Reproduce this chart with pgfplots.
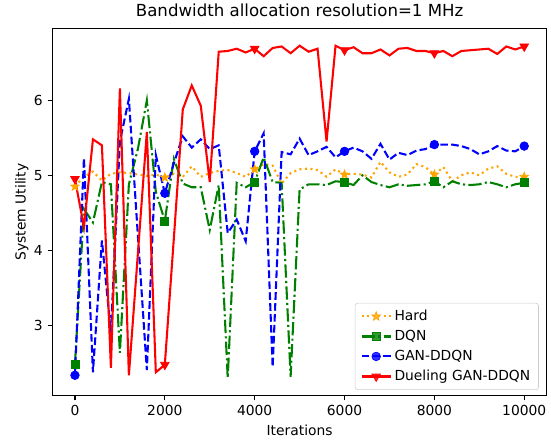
\documentclass[border=0pt]{standalone}
\usepackage{fontspec}
\setmainfont{DejaVu Sans}
\usepackage{pgfplots}
\pgfplotsset{compat=1.18}
\definecolor{cHard}{HTML}{FFA500}
\definecolor{cDQN}{HTML}{008000}
\definecolor{cGAN}{HTML}{0000FF}
\definecolor{cDuel}{HTML}{FF0000}

% filled five-pointed star, like matplotlib's '*'
\pgfdeclareplotmark{fstar}{%
  \pgfpathmoveto{\pgfpointpolar{90}{\pgfplotmarksize}}%
  \pgfpathlineto{\pgfpointpolar{126}{0.42\pgfplotmarksize}}%
  \pgfpathlineto{\pgfpointpolar{162}{\pgfplotmarksize}}%
  \pgfpathlineto{\pgfpointpolar{198}{0.42\pgfplotmarksize}}%
  \pgfpathlineto{\pgfpointpolar{234}{\pgfplotmarksize}}%
  \pgfpathlineto{\pgfpointpolar{270}{0.42\pgfplotmarksize}}%
  \pgfpathlineto{\pgfpointpolar{306}{\pgfplotmarksize}}%
  \pgfpathlineto{\pgfpointpolar{342}{0.42\pgfplotmarksize}}%
  \pgfpathlineto{\pgfpointpolar{18}{\pgfplotmarksize}}%
  \pgfpathlineto{\pgfpointpolar{54}{0.42\pgfplotmarksize}}%
  \pgfpathclose\pgfusepathqfillstroke}

\pgfplotstableread{
x y
0 4.85
200 4.98
400 5.05
600 4.93
800 5.02
1000 5.04
1200 5.03
1400 5.01
1600 4.99
1800 5.01
2000 4.97
2200 5.02
2400 4.98
2600 5.12
2800 4.98
3000 5.03
3200 5.06
3400 5.07
3600 5.03
3800 4.98
4000 5.08
4200 5.15
4400 5.13
4600 4.89
4800 5.03
5000 5.08
5200 5.09
5400 5.07
5600 4.98
5800 5.08
6000 5.01
6200 5.02
6400 5.01
6600 4.97
6800 5.18
7000 5.04
7200 4.98
7400 5.01
7600 5.15
7800 5.11
8000 5.01
8200 5.11
8400 4.92
8600 5.00
8800 5.04
9000 5.00
9200 5.09
9400 5.12
9600 5.02
9800 4.98
10000 4.98
}\hardtab

\pgfplotstableread{
x y
0 2.48
200 4.55
400 4.37
600 4.91
800 4.88
1000 2.63
1200 4.88
1400 5.35
1600 6.00
1800 4.78
2000 4.39
2200 5.22
2400 4.89
2600 4.84
2800 4.84
3000 4.27
3200 4.87
3400 2.29
3600 4.90
3800 4.84
4000 4.91
4200 5.24
4400 4.91
4600 4.90
4800 2.31
5000 4.81
5200 4.88
5400 4.88
5600 4.87
5800 4.92
6000 4.91
6200 4.87
6400 5.00
6600 4.91
6800 4.87
7000 4.84
7200 4.88
7400 4.86
7600 4.87
7800 4.88
8000 4.92
8200 4.84
8400 4.92
8600 4.88
8800 4.87
9000 4.88
9200 4.91
9400 4.88
9600 4.84
9800 4.88
10000 4.90
}\dqntab

\pgfplotstableread{
x y
0 2.33
200 5.23
400 2.37
600 4.13
800 2.90
1000 5.45
1200 6.02
1400 4.20
1600 2.40
1800 5.27
2000 4.76
2200 5.16
2400 5.52
2600 5.37
2800 5.48
3000 5.35
3200 5.40
3400 4.23
3600 4.41
3800 4.12
4000 5.32
4200 5.56
4400 2.44
4600 5.31
4800 5.28
5000 5.49
5200 5.27
5400 5.32
5600 5.38
5800 5.24
6000 5.32
6200 5.37
6400 5.32
6600 5.22
6800 5.42
7000 5.21
7200 5.30
7400 5.27
7600 5.33
7800 5.35
8000 5.41
8200 5.41
8400 5.41
8600 5.39
8800 5.35
9000 5.28
9200 5.32
9400 5.39
9600 5.33
9800 5.32
10000 5.39
}\gantab

\pgfplotstableread{
x y
0 4.95
200 4.31
400 5.48
600 5.40
800 2.43
1000 6.16
1200 2.33
1400 3.95
1600 5.58
1800 2.37
2000 2.47
2200 4.15
2400 5.88
2600 6.20
2800 5.93
3000 4.91
3200 6.65
3400 6.66
3600 6.69
3800 6.64
4000 6.69
4200 6.59
4400 6.70
4600 6.72
4800 6.63
5000 6.73
5200 6.65
5400 6.69
5600 5.45
5800 6.73
6000 6.67
6200 6.71
6400 6.63
6600 6.63
6800 6.68
7000 6.60
7200 6.69
7400 6.70
7600 6.66
7800 6.66
8000 6.63
8200 6.66
8400 6.59
8600 6.66
8800 6.67
9000 6.68
9200 6.69
9400 6.62
9600 6.72
9800 6.68
10000 6.72
}\dueltab

\begin{document}
\begin{tikzpicture}
\path[use as bounding box] (-0.525in,-0.455in) rectangle (4.985in,3.955in);
\begin{axis}[
  scale only axis, width=4.942in, height=3.67in,
  xmin=-500, xmax=10500, ymin=2.06, ymax=6.96,
  xtick={0,2000,4000,6000,8000,10000}, ytick={3,4,5,6},
  scaled x ticks=false,
  xticklabel style={/pgf/number format/1000 sep={}},
  tick label style={font=\fontsize{10}{12}\selectfont, /pgf/number format/assume math mode=true},
  tick align=outside, tick pos=left,
  major tick length=3.5pt, major tick style={line width=0.8pt, black},
  axis line style={line width=0.8pt},
  title={Bandwidth allocation resolution=1 MHz},
  title style={font=\fontsize{12}{14}\selectfont, yshift=-1pt},
  xlabel={Iterations}, ylabel={System Utility},
  label style={font=\fontsize{10}{12}\selectfont},
  ylabel style={yshift=-3pt},
  legend cell align=left,
  legend image code/.code={
    \draw[mark repeat=2, mark phase=2, #1] plot coordinates {(0cm,0cm) (0.37cm,0cm) (0.74cm,0cm)};
  },
  legend style={at={(0.984,0.015)}, anchor=south east, draw=black!20,
    rounded corners=2pt, fill=white, fill opacity=0.8, text opacity=1,
    font=\fontsize{10}{12}\selectfont, row sep=1.5pt, inner xsep=4pt, inner ysep=3pt},
  every axis plot/.append style={line width=1.5pt, mark repeat=10, mark phase=1},
]
\addplot[cHard, dash pattern=on 1.5pt off 2.5pt, mark=fstar, mark size=3.3pt,
  mark options={solid, fill=cHard, line width=0.5pt}] table {\hardtab};
\addlegendentry{Hard}
\addplot[cDQN, dash pattern=on 9.6pt off 2.4pt on 1.5pt off 2.4pt, mark=square*, mark size=2.9pt,
  mark options={solid, fill=cDQN, line width=0.5pt}] table {\dqntab};
\addlegendentry{DQN}
\addplot[cGAN, dash pattern=on 5.5pt off 2.4pt, mark=*, mark size=3.1pt,
  mark options={solid, fill=cGAN, line width=0.5pt}] table {\gantab};
\addlegendentry{GAN-DDQN}
\addplot[cDuel, solid, mark=triangle*, mark size=3.6pt,
  mark options={solid, fill=cDuel, rotate=180, line width=0.5pt}] table {\dueltab};
\addlegendentry{Dueling GAN-DDQN}
\end{axis}
\end{tikzpicture}
\end{document}
